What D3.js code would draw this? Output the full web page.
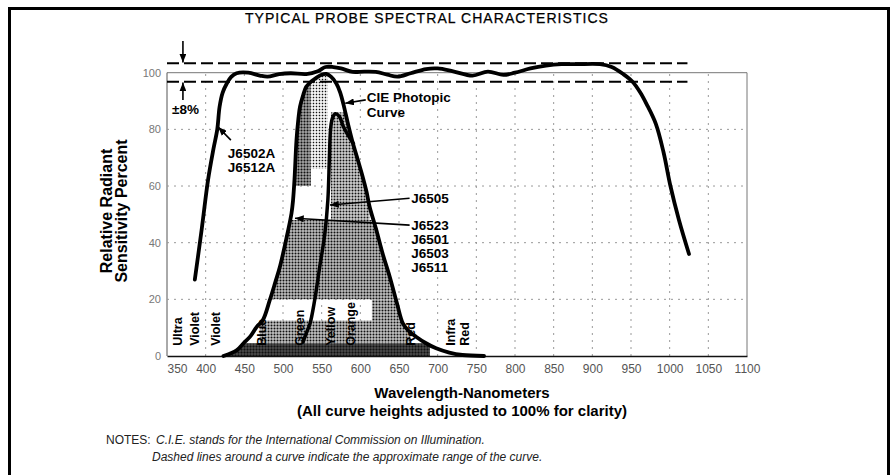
<!DOCTYPE html>
<html><head><meta charset="utf-8">
<script src="https://cdn.jsdelivr.net/npm/d3@7"></script>
<style>
html,body{margin:0;padding:0;background:#fff;}
svg{display:block;font-family:"Liberation Sans",Arial,Helvetica,sans-serif;}
</style></head><body>
<svg id="chart" width="890" height="475"></svg>
<script>
// ---------- data ----------
const xTicks = [350,400,450,500,550,600,650,700,750,800,850,900,950,1000,1050,1100];
const yTicks = [0,20,40,60,80,100];
const gridX = [400,450,500,550,600,650,700,750,800,850,900,950,1000,1050];
const gridY = [20,40,60,80];

// J6502A / J6512A broad response (wavelength nm, percent)
const broadCurve = [[386,27],[395,45],[403,62],[410,73],[415,80],[418,88],[422,93],[427,96],[433,98.5],[440,99.8],[455,100],[470,99],[480,98.6],[495,99.5],[510,99.8],[530,99.5],[545,100.5],[555,102],[565,102],[575,101.5],[590,100.3],[605,100.4],[620,100.3],[635,99.3],[648,98.6],[665,99.8],[685,101.3],[700,101.5],[720,100.5],[745,99],[765,100.4],[785,99.2],[800,100],[820,101.5],[840,102.5],[860,103],[880,103],[910,103],[925,102],[940,99.5],[952,96.8],[962,93],[970,89],[982,82],[992,72],[1001,60],[1012,48],[1025,36]];

// CIE photopic / J6523 J6501 J6503 J6511 bell
const ciePhotopic = [[423,0],[440,2],[449,4.5],[458,7],[466,10.3],[474,12.7],[483,19.8],[490,26],[496,31.5],[504,41],[511,50.4],[513,55],[515,63],[517.4,76],[520,84],[522,88],[526,92],[530,95],[537,97],[543,98.2],[550,99.3],[556,99.6],[562,98.6],[569,96.2],[574,93],[578,89],[584,82],[590.5,75],[597,69],[603,63.3],[608,58],[612,52.7],[620.7,44.5],[629,36],[638,28],[647,19],[655,11.5],[662,9],[672,6.8],[685,4.5],[698,2.7],[715,1.2],[732,0.35],[760,0]];

// J6505 response
const j6505Curve = [[526,5],[530,8],[535,11.5],[541,19.8],[547.5,31.5],[554,43],[558,55],[560,70],[561.5,80],[564,84],[568,85.5],[573,84.5],[578,81],[584,78],[591,75]];

// tolerance band (percent) and its wavelength extent
const toleranceBand = [96.8, 103.3];
const toleranceRange = [350, 1023];

// halftone shading under the bell: [w0, w1, p0, p1, density]
const shading = [
  [420,690,0,4.5,0.85],
  [470,615,4.5,12.5,0.5],
  [615,665,4.5,20,0.5],
  [480,645,20,48,0.52],
  [515,536,60,96,0.6],
  [536,558,66,99,0.25],
  [562,612,48,86,0.45]
];

// spectrum region labels (text, wavelength of baseline)
const spectrumLabels = [["Ultra",369.4],["Violet",391],["Violet",418],["Blue",478],["Green",527],["Yellow",567],["Orange",592.7],["Red",671],["Infra",722],["Red",741]];

// ---------- drawing ----------
const svg = d3.select("#chart");
const x = d3.scaleLinear().domain([350,1100]).range([167,747]);
const y = d3.scaleLinear().domain([0,100]).range([356,72.7]);
const defs = svg.append("defs");

// outer frame
svg.append("path").attr("d",`M9.5,475 V8.5 H888.5 V475`).attr("fill","none").attr("stroke","#000").attr("stroke-width",3);

// title
svg.append("text").attr("x",427).attr("y",23).attr("text-anchor","middle")
  .attr("font-size",14).attr("letter-spacing",1.05).attr("fill","#000")
  .attr("stroke","#000").attr("stroke-width",0.25).text("TYPICAL PROBE SPECTRAL CHARACTERISTICS");

// plot rectangle
svg.append("line").attr("x1",x(350)).attr("x2",x(1100)).attr("y1",y(100)).attr("y2",y(100)).attr("stroke","#777").attr("stroke-width",1);
svg.append("line").attr("x1",x(1100)).attr("x2",x(1100)).attr("y1",y(100)).attr("y2",y(0)).attr("stroke","#777").attr("stroke-width",1);
svg.append("line").attr("x1",x(350)).attr("x2",x(350)).attr("y1",y(100)).attr("y2",y(0)).attr("stroke","#555").attr("stroke-width",1);

// grid
const grid = svg.append("g").attr("stroke","#999").attr("stroke-width",1).attr("stroke-dasharray","2,5");
grid.selectAll("line.gx").data(gridX).join("line").attr("class","gx")
  .attr("x1",d=>x(d)).attr("x2",d=>x(d)).attr("y1",y(0)).attr("y2",y(100));
grid.selectAll("line.gy").data(gridY).join("line").attr("class","gy")
  .attr("x1",x(350)).attr("x2",x(1100)).attr("y1",d=>y(d)).attr("y2",d=>y(d));

// halftone patterns
shading.forEach((d,i)=>{
  const p = defs.append("pattern").attr("id","ht"+i).attr("patternUnits","userSpaceOnUse").attr("width",3).attr("height",3);
  const s = 3*Math.sqrt(d[4]);
  p.append("rect").attr("width",3).attr("height",3).attr("fill","#fff");
  p.append("rect").attr("x",(3-s)/2).attr("y",(3-s)/2).attr("width",s).attr("height",s).attr("fill","#111");
});

// shading clipped to bell
const area = d3.area().x(d=>x(d[0])).y0(y(0)).y1(d=>y(d[1])).curve(d3.curveCatmullRom.alpha(0.5));
defs.append("clipPath").attr("id","bellclip").append("path").attr("d",area(ciePhotopic));
const shadeG = svg.append("g").attr("clip-path","url(#bellclip)");
shadeG.selectAll("rect").data(shading).join("rect")
  .attr("x",d=>x(d[0])).attr("width",d=>x(d[1])-x(d[0]))
  .attr("y",d=>y(d[3])).attr("height",d=>y(d[2])-y(d[3]))
  .attr("fill",(d,i)=>`url(#ht${i})`);

// tolerance dashed lines
svg.selectAll("line.tol").data(toleranceBand).join("line").attr("class","tol")
  .attr("x1",x(toleranceRange[0])).attr("x2",x(toleranceRange[1]))
  .attr("y1",d=>y(d)).attr("y2",d=>y(d))
  .attr("stroke","#000").attr("stroke-width",2).attr("stroke-dasharray","12,5");

// axes
const xAxis = svg.append("g").attr("transform",`translate(0,${y(0)})`)
  .call(d3.axisBottom(x).tickValues(xTicks).tickFormat(d3.format("d")).tickSize(0).tickPadding(8));
xAxis.select(".domain").attr("stroke","#111").attr("stroke-width",1.5);
xAxis.selectAll("text").attr("font-size",12).attr("fill","#555").attr("font-family","Liberation Sans, Arial, sans-serif")
  .attr("text-anchor",d=>d===350?"start":"middle");
const yAxis = svg.append("g").attr("transform",`translate(${x(350)},0)`)
  .call(d3.axisLeft(y).tickValues(yTicks).tickSize(0).tickPadding(6));
yAxis.select(".domain").remove();
yAxis.selectAll("text").attr("font-size",11).attr("fill","#777").attr("font-family","Liberation Sans, Arial, sans-serif");

// curves
const line = d3.line().x(d=>x(d[0])).y(d=>y(d[1])).curve(d3.curveCatmullRom.alpha(0.5));
[[ciePhotopic,3.8],[j6505Curve,3.5],[broadCurve,3.8]].forEach(([data,w])=>{
  svg.append("path").attr("d",line(data)).attr("fill","none").attr("stroke","#000").attr("stroke-width",w)
    .attr("stroke-linecap","round").attr("stroke-linejoin","round");
});

// spectrum labels
svg.append("g").selectAll("text").data(spectrumLabels).join("text")
  .attr("transform",d=>`translate(${x(d[1])},${y(3.6)}) rotate(-90)`)
  .attr("font-size",12.5).attr("font-weight","bold").attr("fill","#000").text(d=>d[0]);

// arrow marker
defs.append("marker").attr("id","ah").attr("viewBox","0 0 10 8").attr("refX",10).attr("refY",4)
  .attr("markerWidth",9).attr("markerHeight",7).attr("markerUnits","userSpaceOnUse").attr("orient","auto")
  .append("path").attr("d","M0,0 L10,4 L0,8 Z").attr("fill","#000");

// arrows [from(w,p), to(w,p)]
const arrows = [
  [[432.6,76.2],[416.2,80.8]],
  [[607,90.4],[580.5,89.2]],
  [[663.7,55.7],[560.8,53.3]],
  [[663.7,46.2],[515.5,48.6]],
  [[370.6,111.2],[370.6,103.6]],
  [[370.6,90.4],[370.6,96.5]]
];
svg.append("g").selectAll("line").data(arrows).join("line")
  .attr("x1",d=>x(d[0][0])).attr("x2",d=>x(d[1][0]))
  .attr("y1",d=>y(d[0][1])).attr("y2",d=>y(d[1][1]))
  .attr("stroke","#000").attr("stroke-width",1.6).attr("marker-end","url(#ah)");

// annotation labels (wavelength, percent, text)
const annLbl = [
  [608.2,89.7,"CIE Photopic"],[608.2,84.4,"Curve"],
  [665.9,54,"J6505"],
  [665.9,44.5,"J6523"],[665.9,39.7,"J6501"],[665.9,34.6,"J6503"],[665.9,29.7,"J6511"],
  [428.7,69.9,"J6502A"],[428.7,65,"J6512A"],
  [356.5,85.4,"±8%"]
];
svg.append("g").selectAll("text").data(annLbl).join("text")
  .attr("x",d=>x(d[0])).attr("y",d=>y(d[1]))
  .attr("font-size",13.5).attr("font-weight","bold").attr("fill","#000").text(d=>d[2]);

// axis titles
const yt = svg.append("g").attr("transform","translate(0,211)");
yt.append("text").attr("transform","translate(111.5,0) rotate(-90)").attr("text-anchor","middle")
  .attr("font-size",16).attr("font-weight","bold").text("Relative Radiant");
yt.append("text").attr("transform","translate(126.5,0) rotate(-90)").attr("text-anchor","middle")
  .attr("font-size",16).attr("font-weight","bold").text("Sensitivity Percent");

svg.append("text").attr("x",462).attr("y",398).attr("text-anchor","middle")
  .attr("font-size",15).attr("font-weight","bold").text("Wavelength-Nanometers");
svg.append("text").attr("x",462).attr("y",416).attr("text-anchor","middle")
  .attr("font-size",15).attr("font-weight","bold").text("(All curve heights adjusted to 100% for clarity)");

// notes
svg.append("text").attr("x",106).attr("y",444).attr("font-size",12).attr("fill","#222").text("NOTES:");
svg.append("text").attr("x",156).attr("y",444).attr("font-size",12).attr("font-style","italic").attr("fill","#222")
  .text("C.I.E. stands for the International Commission on Illumination.");
svg.append("text").attr("x",152).attr("y",461).attr("font-size",12).attr("font-style","italic").attr("fill","#222")
  .text("Dashed lines around a curve indicate the approximate range of the curve.");
</script>
</body></html>
